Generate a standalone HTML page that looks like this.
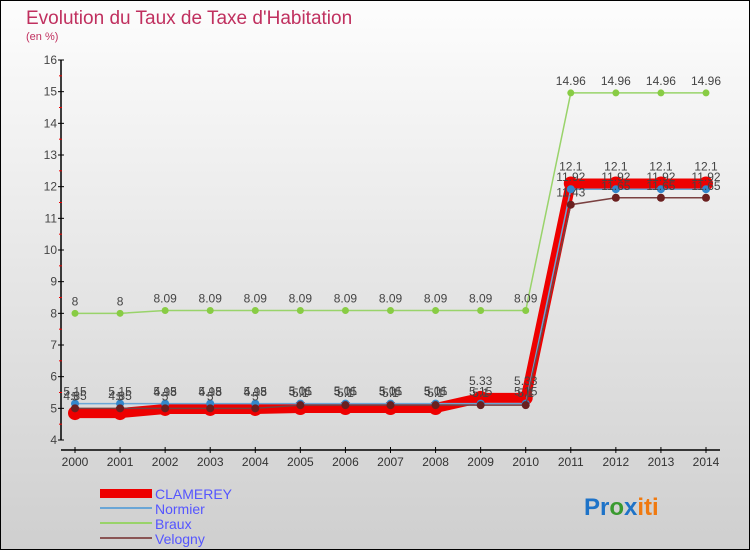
<!DOCTYPE html>
<html><head><meta charset="utf-8"><style>
body{margin:0;width:750px;height:550px;overflow:hidden;font-family:"Liberation Sans",sans-serif}
svg text{font-family:"Liberation Sans",sans-serif}
</style></head><body>
<svg id="chart" width="750" height="550" xmlns="http://www.w3.org/2000/svg">
<defs><linearGradient id="bg" x1="0" y1="0" x2="0" y2="1"><stop offset="0" stop-color="#fdfdfd"/><stop offset="1" stop-color="#cfcfcf"/></linearGradient></defs>
<rect x="0.5" y="0.5" width="749" height="549" fill="url(#bg)" stroke="#000"/>
<text x="26" y="24" font-size="19" fill="#c0305f">Evolution du Taux de Taxe d'Habitation</text>
<text x="26" y="40" font-size="11" fill="#c0305f">(en %)</text>
<g id="axes"></g><g id="series"></g>
<g>
<rect x="100" y="489" width="52" height="9" fill="#ee0000"/>
<text x="155" y="499" font-size="14" fill="#5555ff">CLAMEREY</text>
<line x1="100" y1="508" x2="152" y2="508" stroke="#6aa6d6" stroke-width="2"/>
<text x="155" y="514" font-size="14" fill="#5555ff">Normier</text>
<line x1="100" y1="523" x2="152" y2="523" stroke="#99d36a" stroke-width="2"/>
<text x="155" y="529" font-size="14" fill="#5555ff">Braux</text>
<line x1="100" y1="538" x2="152" y2="538" stroke="#8a5555" stroke-width="2"/>
<text x="155" y="544" font-size="14" fill="#5555ff">Velogny</text>
</g>
<text x="584" y="515" font-size="24" font-weight="bold"><tspan fill="#1e73c8">Pr</tspan><tspan fill="#3a9a30">o</tspan><tspan fill="#1e73c8">x</tspan><tspan fill="#f07a10">iti</tspan></text>
</svg>
<script>
const years=[2000,2001,2002,2003,2004,2005,2006,2007,2008,2009,2010,2011,2012,2013,2014];
const yTicks=[4,5,6,7,8,9,10,11,12,13,14,15,16];
const clamerey=[4.85,4.85,4.98,4.98,4.98,5.01,5.01,5.01,5.01,5.33,5.33,12.1,12.1,12.1,12.1];
const normier=[5.15,5.15,5.15,5.15,5.15,5.15,5.15,5.15,5.15,5.15,5.15,11.92,11.92,11.92,11.92];
const braux=[8,8,8.09,8.09,8.09,8.09,8.09,8.09,8.09,8.09,8.09,14.96,14.96,14.96,14.96];
const velogny=[5,5,5,5,5,5.1,5.1,5.1,5.1,5.1,5.1,11.43,11.65,11.65,11.65];
const NS='http://www.w3.org/2000/svg';
const X=i=>75+i*(706-75)/(years.length-1);
const Y=v=>440-(v-4)*(380/12);
function mk(t,a,p){const e=document.createElementNS(NS,t);for(const k in a)e.setAttribute(k,a[k]);p.appendChild(e);return e;}
const ax=document.getElementById('axes'),sg=document.getElementById('series');
const yl=mk('line',{x1:61,y1:60,x2:61,y2:440,stroke:'#000','stroke-width':1.5},ax);


const xl=mk('line',{x1:61,y1:450,x2:720,y2:450,stroke:'#000','stroke-width':1.5},ax);


yTicks.forEach(v=>{mk('line',{x1:58,y1:Y(v),x2:64,y2:Y(v),stroke:'#000'},ax);
 if(v<16)mk('line',{x1:59,y1:Y(v+0.5),x2:62,y2:Y(v+0.5),stroke:'#e00'},ax);
 const t=mk('text',{x:57,y:Y(v)+4,'font-size':12,fill:'#444','text-anchor':'end'},ax);t.textContent=v;
 
 });
years.forEach((y,i)=>{mk('line',{x1:X(i),y1:447,x2:X(i),y2:453,stroke:'#000'},ax);
 const t=mk('text',{x:X(i),y:466,'font-size':12,fill:'#333','text-anchor':'middle'},ax);t.textContent=y;
 
 });
function series(d,name,col,w,r,dot,lab,dy){
 const g=mk('g',{},sg);
 
 
 mk('polyline',{points:d.map((v,i)=>X(i)+','+Y(v)).join(' '),fill:'none',stroke:col,'stroke-width':w},g);
 d.forEach((v,i)=>{const c=mk('circle',{cx:X(i),cy:Y(v),r:r,fill:dot},g);
  
  
  const t=mk('text',{x:X(i),y:Y(v)+dy,'font-size':12,fill:'#444','text-anchor':'middle'},g);t.textContent=String(v);});
}
series(braux,'braux','#99d36a',1.5,3.5,'#88cc44',1,-8);
series(clamerey,'clamerey','#ee0000',10,7,'#ee0000',1,-13);
series(normier,'normier','#6aa6d6',1.5,4,'#3388cc',1,-8);
series(velogny,'velogny','#7a4040',1.5,4,'#6b2020',1,-8);
</script>
</body></html>
